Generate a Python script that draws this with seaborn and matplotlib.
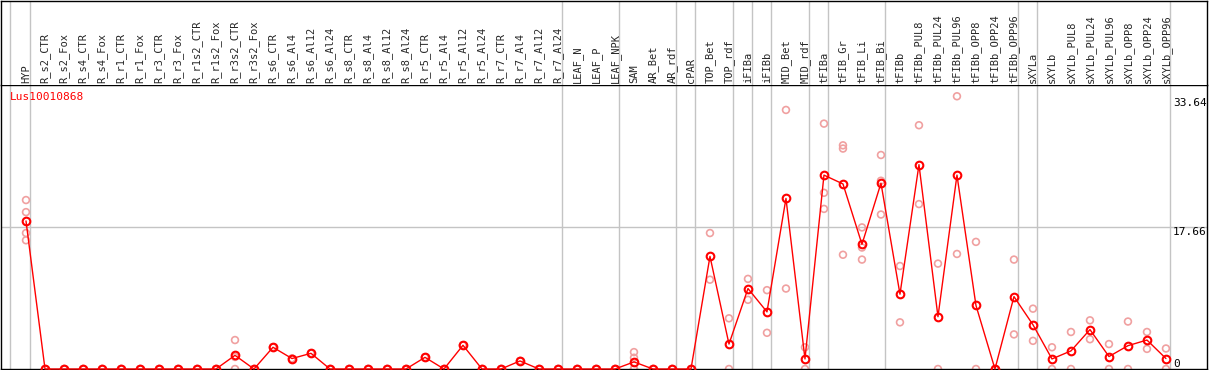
import numpy as np
import pandas as pd
import matplotlib
matplotlib.use("Agg")
import matplotlib.pyplot as plt
import seaborn as sns

gene = "Lus10010868"

samples = ["HYP",
           "R_s2_CTR", "R_s2_Fox", "R_s4_CTR", "R_s4_Fox", "R_r1_CTR", "R_r1_Fox",
           "R_r3_CTR", "R_r3_Fox", "R_r1s2_CTR", "R_r1s2_Fox", "R_r3s2_CTR", "R_r3s2_Fox",
           "R_s6_CTR", "R_s6_Al4", "R_s6_Al12", "R_s6_Al24",
           "R_s8_CTR", "R_s8_Al4", "R_s8_Al12", "R_s8_Al24",
           "R_r5_CTR", "R_r5_Al4", "R_r5_Al12", "R_r5_Al24",
           "R_r7_CTR", "R_r7_Al4", "R_r7_Al12", "R_r7_Al24",
           "LEAF_N", "LEAF_P", "LEAF_NPK",
           "SAM", "AR_Bet", "AR_rdf", "cPAR", "TOP_Bet", "TOP_rdf",
           "iFIBa", "iFIBb", "MID_Bet", "MID_rdf", "tFIBa",
           "tFIB_Gr", "tFIB_Li", "tFIB_Bi",
           "tFIBb", "tFIBb_PUL8", "tFIBb_PUL24", "tFIBb_PUL96",
           "tFIBb_OPP8", "tFIBb_OPP24", "tFIBb_OPP96",
           "sXYLa",
           "sXYLb", "sXYLb_PUL8", "sXYLb_PUL24", "sXYLb_PUL96",
           "sXYLb_OPP8", "sXYLb_OPP24", "sXYLb_OPP96"]

means = [18.4,
         0, 0, 0, 0, 0, 0, 0, 0, 0, 0, 1.7, 0,
         2.7, 1.3, 1.95, 0,
         0, 0, 0, 0,
         1.45, 0, 2.95, 0,
         0, 1.0, 0, 0,
         0, 0, 0,
         0.88, 0, 0, 0, 14.0, 3.1,
         10.0, 7.1, 21.2, 1.25, 24.1,
         23.0, 15.5, 23.1,
         9.3, 25.4, 6.5, 24.1,
         7.9, 0, 9.0,
         5.5,
         1.25, 2.25, 4.9, 1.55,
         2.9, 3.6, 1.3]

replicates = [[21.0, 19.5, 16.9, 16.0],
              [0, 0], [0, 0], [0, 0], [0, 0], [0, 0], [0, 0], [0, 0], [0, 0], [0, 0], [0, 0],
              [3.6, 1.5, 0], [0, 0],
              [2.7, 2.7], [1.3, 1.3], [1.95, 1.95], [0, 0],
              [0, 0], [0, 0], [0, 0], [0, 0],
              [1.45, 1.45], [0, 0], [2.95, 2.95], [0, 0],
              [0, 0], [1.0, 1.0], [0, 0], [0, 0],
              [0, 0], [0, 0], [0, 0],
              [2.1, 1.4, 0, 0], [0, 0], [0, 0], [0, 0], [16.9, 11.1], [6.3, 0],
              [11.2, 8.6], [9.8, 4.5], [32.2, 10.0], [2.7, 0], [30.5, 21.9, 19.9],
              [27.8, 27.4, 14.2], [17.6, 15.1, 13.6], [26.6, 23.4, 19.2],
              [12.8, 5.8], [30.3, 20.5], [13.1, 0], [33.9, 14.3],
              [15.8, 0], [0, 0], [13.6, 4.3],
              [7.5, 3.5],
              [2.7, 0], [4.6, 0], [6.05, 3.7], [3.1, 0],
              [5.9, 0], [4.6, 2.5], [2.55, 0]]

group_ends = ["HYP", "R_r7_Al24", "LEAF_NPK", "AR_rdf", "cPAR", "TOP_rdf", "iFIBa",
              "iFIBb", "MID_rdf", "tFIBa", "tFIB_Bi", "tFIBb_OPP96", "sXYLa", "sXYLb_OPP96"]

ytick_vals = [0, 17.66, 33.64]
ytick_labels = ["0", "17.66", "33.64"]

mean_df = pd.DataFrame({"pos": np.arange(len(samples)), "sample": samples, "mean": means})
rep_df = pd.DataFrame([(i, v) for i, reps in enumerate(replicates) for v in reps],
                      columns=["pos", "value"])

sns.set_style("white")
plt.rcParams["font.family"] = ["DejaVu Sans Mono", "DejaVu Sans"]

W, H = 1209, 370
fig = plt.figure(figsize=(W / 100, H / 100), dpi=100)
ax = fig.add_axes([1 / W, 1 / H, 1206 / W, 284 / H])
axh = fig.add_axes([1 / W, 285 / H, 1206 / W, 84.5 / H], sharex=ax)

grid_col = "#c4c4c4"
line_pos = [-0.84] + [samples.index(s) + 0.21 for s in group_ends]
for a in (ax, axh):
    for xp in line_pos:
        a.axvline(xp, color=grid_col, lw=1, zorder=0)
ax.axhline(17.66, color=grid_col, lw=1, zorder=0)

# replicate values (light) behind the mean line
sns.scatterplot(data=rep_df, x="pos", y="value", ax=ax, marker="o", s=24,
                color="#f0a0a0", facecolor="none", edgecolor="#f0a0a0",
                linewidth=1.2, zorder=2, clip_on=False, legend=False)
sns.lineplot(data=mean_df, x="pos", y="mean", ax=ax, color="red", lw=1,
             marker="o", markersize=5.5, markerfacecolor="none",
             markeredgecolor="red", markeredgewidth=1.5, zorder=3, clip_on=False)

ax.set_xlim(-1.316, 62.16)
ax.set_ylim(0, 35.3)
ax.set_xticks([])
ax.set_yticks([])
ax.set_xlabel("")
ax.set_ylabel("")
for sp in ax.spines.values():
    sp.set_visible(True)
    sp.set_color("black")
    sp.set_linewidth(1.0)

for v, lab in zip(ytick_vals, ytick_labels):
    ax.text(60.37, v, lab, ha="left", va="bottom" if v == 0 else "top",
            fontsize=8, color="black")

ax.text(0.0075, 0.958, gene, transform=ax.transAxes, ha="left", va="center",
        fontsize=8, color="red")

axh.set_ylim(0, 1)
axh.set_yticks([])
axh.tick_params(bottom=False, labelbottom=False)
for sp in ["left", "right", "top"]:
    axh.spines[sp].set_color("black")
    axh.spines[sp].set_linewidth(1.0)
axh.spines["bottom"].set_visible(False)
for i, s in enumerate(samples):
    axh.text(i, 0.02, s, rotation=90, ha="center", va="bottom", fontsize=7.5)

fig.savefig("out.png", dpi=100)
